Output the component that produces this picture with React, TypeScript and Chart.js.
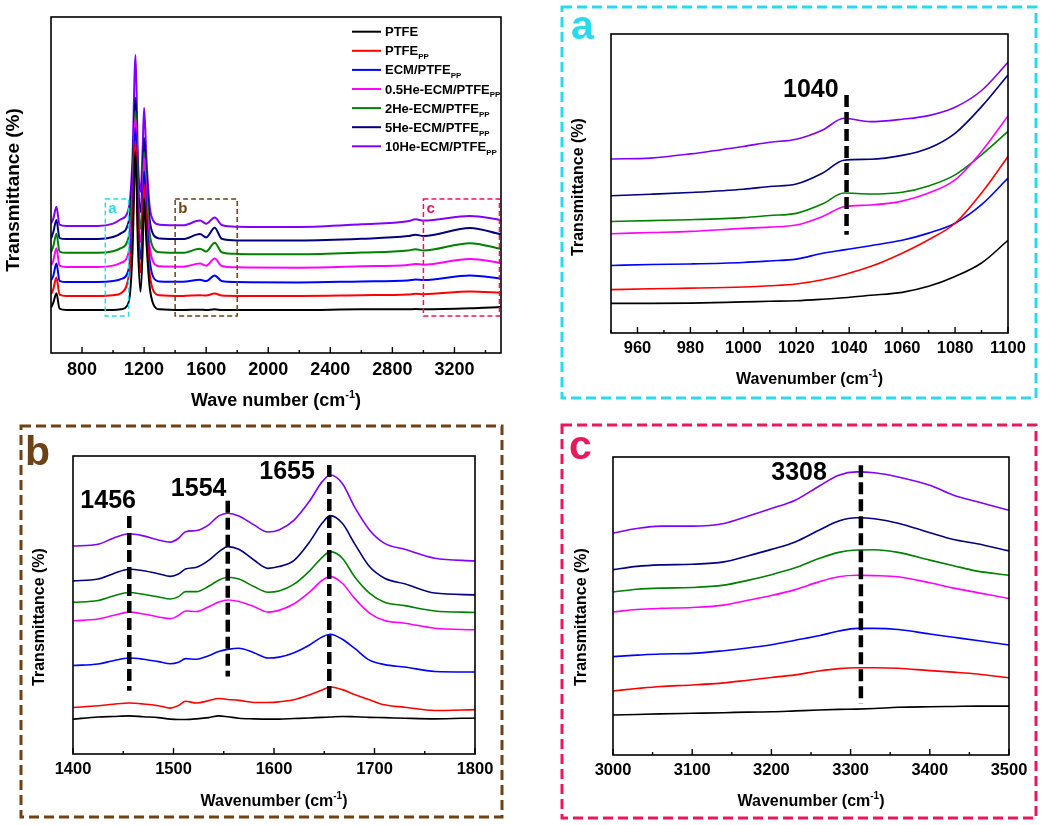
import React, { useEffect, useRef } from "react";
import { Chart, registerables } from "chart.js";
Chart.register(...registerables);

const FONT = '"Liberation Sans", Arial, Helvetica, sans-serif';

// ---------- series meta ----------
const seriesNames = ["PTFE", "PTFE", "ECM/PTFE", "0.5He-ECM/PTFE", "2He-ECM/PTFE", "5He-ECM/PTFE", "10He-ECM/PTFE"];
const seriesSubs = ["", "PP", "PP", "PP", "PP", "PP", "PP"];
const seriesColors = ["#000000", "#ff0000", "#0000ff", "#ff00ff", "#008000", "#000080", "#8000ff"];

// ---------- main panel (600-3500) ----------
const mainWaves = [600, 615, 635, 655, 700, 900, 1000, 1050, 1090, 1110, 1125, 1145, 1160, 1177, 1190, 1200, 1215, 1235, 1260, 1300, 1450, 1560, 1600, 1655, 1700, 1800, 2200, 2600, 2900, 2950, 3000, 3300, 3500];
const mainPTFE = [13.5, 15, 17.8, 13.2, 12.8, 12.8, 12.8, 13.0, 14.0, 18, 30, 60, 32, 18.2, 30, 46, 33, 20, 14.5, 13.0, 12.8, 12.9, 12.8, 13.0, 12.8, 12.8, 12.8, 13.0, 13.0, 13.1, 13.0, 13.3, 13.7];
const mainPTFEpp = [17.5, 19, 22.5, 17.4, 17.0, 17.0, 17.2, 17.8, 20.5, 26, 36, 63, 37, 24, 35, 50, 37, 24, 18.5, 17.2, 17.0, 17.2, 17.1, 17.7, 17.1, 17.0, 17.0, 17.2, 17.4, 17.6, 17.5, 18.3, 17.9];
const mainECM = [21.6, 23, 26.6, 21.5, 21.1, 21.1, 21.4, 22.0, 23.5, 28, 40, 67, 41, 28, 39, 54, 41, 28, 22.5, 21.3, 21.2, 21.8, 21.4, 23.1, 21.4, 21.1, 21.0, 21.3, 21.6, 21.9, 21.7, 23.1, 22.2];
const mainHe05 = [26, 27.5, 31.2, 26, 25.6, 25.6, 26.0, 26.8, 28.5, 33, 45, 70, 45, 33, 43, 58, 45, 32, 27, 25.8, 25.7, 26.6, 26.0, 28.1, 25.9, 25.5, 25.4, 25.8, 26.2, 26.5, 26.3, 28.0, 26.8];
const mainHe2 = [30, 31.8, 35.5, 30.2, 29.8, 29.8, 30.3, 31.2, 33, 37.5, 49, 72, 49, 37, 47, 60, 49, 36, 31.2, 30.0, 29.8, 31.0, 30.2, 32.8, 30.0, 29.5, 29.4, 29.9, 30.5, 30.9, 30.5, 32.7, 31.0];
const mainHe5 = [34, 36, 39.6, 34.2, 33.9, 33.9, 34.5, 35.6, 37.5, 42, 53, 76, 53, 42, 52, 64, 53, 40, 35.2, 34.1, 33.9, 35.4, 34.4, 37.3, 34.0, 33.5, 33.5, 34.0, 34.8, 35.2, 34.8, 37.2, 35.3];
const mainHe10 = [38.5, 40, 43.5, 38.2, 37.8, 37.8, 38.5, 39.8, 41.5, 46, 58, 88.7, 58, 48, 60, 73, 58, 44, 39.3, 38.2, 38.0, 39.4, 38.5, 40.3, 38.1, 37.6, 37.5, 38.3, 39.2, 39.8, 39.4, 40.8, 39.6];
const mainMajorTicks = [800, 1200, 1600, 2000, 2400, 2800, 3200];
const mainMinorTicks = [1000, 1400, 1800, 2200, 2600, 3000, 3400];

// ---------- panel a (950-1100) ----------
const aWaves = [950, 965, 980, 1000, 1010, 1020, 1030, 1038, 1048, 1060, 1070, 1080, 1090, 1100];
const aPTFE = [9.9, 9.9, 10.0, 10.4, 10.6, 10.8, 11.3, 11.8, 12.6, 13.6, 15.6, 18.9, 23.4, 31.0];
const aPTFEpp = [14.5, 14.8, 15.0, 15.4, 15.8, 16.4, 17.8, 19.5, 22.2, 26.7, 31.2, 36.7, 46.8, 59.0];
const aECM = [22.6, 22.9, 23.1, 23.6, 24.1, 24.7, 26.7, 27.8, 29.2, 31.0, 33.4, 36.7, 42.9, 51.8];
const aHe05 = [33.2, 33.6, 34.0, 35.0, 35.4, 36.1, 39.0, 42.2, 42.8, 44.1, 46.8, 51.2, 60.7, 72.6];
const aHe2 = [37.3, 37.6, 37.9, 38.6, 39.3, 40.0, 43.2, 46.8, 46.5, 47.1, 49.2, 52.9, 59.6, 67.4];
const aHe5 = [45.9, 46.4, 47.0, 48.1, 49.0, 49.8, 53.5, 57.8, 58.1, 59.4, 61.8, 66.8, 75.7, 86.3];
const aHe10 = [58.2, 58.5, 59.9, 62.4, 63.8, 64.8, 67.9, 71.8, 70.7, 71.5, 72.7, 75.5, 81.1, 90.5];
const aMajorTicks = [960, 980, 1000, 1020, 1040, 1060, 1080, 1100];
const aMinorTicks = [950, 970, 990, 1010, 1030, 1050, 1070, 1090];

// ---------- panel b (1400-1800) ----------
const bWaves = [1400, 1425, 1440, 1456, 1470, 1485, 1497, 1505, 1512, 1523, 1535, 1545, 1554, 1565, 1580, 1594, 1605, 1620, 1635, 1648, 1656, 1668, 1680, 1695, 1710, 1730, 1760, 1800];
const bPTFE = [11.7, 12.4, 12.6, 12.8, 12.5, 12.2, 11.7, 11.6, 11.6, 11.8, 12.2, 12.8, 12.5, 12.0, 11.8, 11.7, 11.7, 11.9, 12.1, 12.3, 12.4, 12.6, 12.5, 12.3, 12.2, 12.0, 11.8, 12.1];
const bPTFEpp = [15.6, 16.2, 16.7, 17.1, 16.8, 16.2, 15.4, 16.3, 17.7, 17.1, 17.9, 18.6, 18.3, 18.0, 17.3, 17.3, 17.5, 18.2, 19.8, 21.5, 22.5, 21.6, 20.0, 18.2, 16.5, 15.7, 14.6, 14.9];
const bECM = [29.7, 30.2, 31.3, 32.2, 31.8, 31.0, 30.3, 30.8, 32.0, 31.8, 33.0, 34.4, 35.1, 35.5, 34.0, 32.2, 32.5, 34.0, 36.5, 39.3, 40.2, 38.5, 35.5, 31.5, 30.0, 29.2, 27.7, 27.5];
const bHe05 = [44.7, 45.3, 46.5, 47.6, 47.0, 46.0, 45.4, 46.5, 48.0, 47.8, 49.4, 51.0, 51.7, 51.2, 49.5, 47.6, 48.2, 50.4, 54.2, 58.3, 59.6, 57.3, 52.3, 47.3, 44.8, 43.9, 42.2, 41.7];
const bHe2 = [50.9, 51.5, 53.0, 54.2, 53.6, 52.7, 52.0, 52.8, 54.5, 54.5, 56.3, 58.3, 59.3, 58.7, 56.2, 54.3, 54.7, 57.0, 61.3, 66.0, 67.9, 65.7, 59.6, 54.0, 50.9, 49.8, 48.0, 47.5];
const bHe5 = [58.1, 58.7, 60.5, 62.0, 61.5, 60.5, 59.6, 60.4, 62.1, 62.7, 65.0, 67.8, 69.6, 68.7, 65.1, 62.3, 62.9, 65.0, 71.0, 77.5, 80.0, 77.4, 70.7, 62.9, 59.0, 57.1, 54.0, 53.4];
const bHe10 = [69.8, 70.4, 72.4, 73.9, 73.2, 71.8, 71.1, 72.4, 74.6, 75.0, 76.9, 79.9, 80.8, 79.9, 76.9, 74.5, 75.2, 78.5, 84.7, 91.4, 93.6, 90.8, 83.0, 75.2, 70.7, 68.7, 65.7, 64.8];
const bMajorTicks = [1400, 1500, 1600, 1700, 1800];
const bMinorTicks = [1450, 1550, 1650, 1750];

// ---------- panel c (3000-3500) ----------
const cWaves = [3000, 3030, 3060, 3100, 3140, 3170, 3200, 3230, 3260, 3285, 3308, 3330, 3360, 3400, 3430, 3460, 3500];
const cPTFE = [13.4, 13.6, 13.8, 14.0, 14.2, 14.4, 14.5, 14.8, 15.1, 15.3, 15.4, 15.6, 16.0, 16.2, 16.3, 16.4, 16.4];
const cPTFEpp = [21.5, 22.3, 23.0, 23.5, 24.2, 25.1, 26.0, 26.9, 28.2, 29.0, 29.3, 29.3, 29.1, 28.3, 27.8, 27.2, 25.9];
const cECM = [33.0, 33.5, 33.9, 34.1, 35.0, 35.9, 37.0, 38.5, 40.0, 41.6, 42.5, 42.5, 42.1, 40.6, 39.5, 38.4, 36.9];
const cHe05 = [48.0, 48.8, 49.2, 49.5, 50.3, 51.9, 53.5, 55.5, 58.1, 59.8, 60.3, 60.2, 59.8, 57.8, 56.0, 54.5, 52.5];
const cHe2 = [54.7, 55.6, 56.0, 56.2, 57.0, 58.6, 60.5, 62.8, 65.9, 68.0, 68.8, 68.9, 68.0, 65.4, 63.5, 61.7, 60.3];
const cHe5 = [62.2, 63.3, 63.8, 64.0, 64.8, 66.8, 69.0, 71.5, 75.4, 78.5, 79.6, 79.3, 77.8, 74.6, 72.3, 70.9, 68.5];
const cHe10 = [74.5, 76.0, 76.8, 76.8, 77.7, 80.1, 82.7, 85.5, 90.2, 93.9, 95.0, 94.7, 93.3, 90.5, 87.2, 85.0, 82.1];
const cMajorTicks = [3000, 3100, 3200, 3300, 3400, 3500];
const cMinorTicks = [3050, 3150, 3250, 3350, 3450];

// ---------- peak markers ----------
const aMarkers = [{ x: 1039, y0: 32.9, y1: 79.6 }];
const aMarkerLabels = [{ text: "1040", x: 1036, y: 79.0, align: "right" }];
const bMarkers = [
  { x: 1456, y0: 21.2, y1: 79.9 },
  { x: 1554, y0: 26.0, y1: 85.0 },
  { x: 1655, y0: 17.1, y1: 97.0 },
];
const bMarkerLabels = [
  { text: "1456", x: 1435, y: 82.5, align: "center" },
  { text: "1554", x: 1525, y: 86.6, align: "center" },
  { text: "1655", x: 1613, y: 92.2, align: "center" },
];
const cMarkers = [{ x: 3313, y0: 17.3, y1: 97.2 }];
const cMarkerLabels = [{ text: "3308", x: 3235, y: 92.4, align: "center" }];

// zoom boxes on main panel
const mainBoxes = [
  { label: "a", x0: 950, x1: 1100, y0: 11, y1: 45.8, color: "#29d9ee" },
  { label: "b", x0: 1400, x1: 1800, y0: 11, y1: 45.8, color: "#6e4214" },
  { label: "c", x0: 3000, x1: 3490, y0: 11, y1: 45.8, color: "#e8185a" },
];

type Part = { t: string; sup?: boolean; sub?: boolean };

function drawParts(ctx: CanvasRenderingContext2D, parts: Part[], x: number, y: number, size: number, align: string, color: string, rotate = false) {
  ctx.save();
  const small = Math.round(size * 0.62);
  const widths = parts.map((p) => {
    ctx.font = `bold ${p.sup || p.sub ? small : size}px ${FONT}`;
    return ctx.measureText(p.t).width;
  });
  const total = widths.reduce((a, b) => a + b, 0);
  ctx.translate(x, y);
  if (rotate) ctx.rotate(-Math.PI / 2);
  let cx = align === "center" ? -total / 2 : align === "right" ? -total : 0;
  ctx.fillStyle = color;
  ctx.textBaseline = "alphabetic";
  ctx.textAlign = "left";
  parts.forEach((p, i) => {
    ctx.font = `bold ${p.sup || p.sub ? small : size}px ${FONT}`;
    const dy = p.sup ? -size * 0.42 : p.sub ? size * 0.3 : 0;
    ctx.fillText(p.t, cx, dy);
    cx += widths[i];
  });
  ctx.restore();
}

const wavenumberTitle: Part[] = [{ t: "Wavenumber (cm" }, { t: "-1", sup: true }, { t: ")" }];

type PanelCfg = {
  key: string;
  left: number; top: number; w: number; h: number;
  area: { l: number; t: number; r: number; b: number };
  xMin: number; xMax: number;
  waves: number[];
  series: number[][];
  major: number[]; minor: number[];
  tickSize: number; tickPad: number; lineWidth: number;
  xTitle: Part[]; xTitleY: number; yTitleX: number; yTitleY: number; titleSize: number;
  border?: { x0: number; y0: number; x1: number; y1: number; color: string; letter: string; lx: number; ly: number };
  markers?: { x: number; y0: number; y1: number }[];
  markerLabels?: { text: string; x: number; y: number; align: string }[];
  boxes?: typeof mainBoxes;
  legend?: boolean;
};

const panels: PanelCfg[] = [
  {
    key: "main", left: 0, top: 0, w: 520, h: 410,
    area: { l: 51, t: 17, r: 501, b: 353 },
    xMin: 600, xMax: 3500, waves: mainWaves,
    series: [mainPTFE, mainPTFEpp, mainECM, mainHe05, mainHe2, mainHe5, mainHe10],
    major: mainMajorTicks, minor: mainMinorTicks,
    tickSize: 18, tickPad: 6, lineWidth: 2,
    xTitle: [{ t: "Wave number (cm" }, { t: "-1", sup: true }, { t: ")" }],
    xTitleY: 406, yTitleX: 19, yTitleY: 190, titleSize: 18,
    boxes: mainBoxes, legend: true,
  },
  {
    key: "a", left: 520, top: 0, w: 530, h: 410,
    area: { l: 91, t: 34, r: 488, b: 333 },
    xMin: 950, xMax: 1100, waves: aWaves,
    series: [aPTFE, aPTFEpp, aECM, aHe05, aHe2, aHe5, aHe10],
    major: aMajorTicks, minor: aMinorTicks,
    tickSize: 16.5, tickPad: 6, lineWidth: 1.6,
    xTitle: wavenumberTitle, xTitleY: 384, yTitleX: 63, yTitleY: 187, titleSize: 16,
    border: { x0: 42, y0: 7, x1: 516, y1: 398, color: "#29d9ee", letter: "a", lx: 51, ly: 39 },
    markers: aMarkers, markerLabels: aMarkerLabels,
  },
  {
    key: "b", left: 0, top: 410, w: 520, h: 415,
    area: { l: 73, t: 46, r: 475, b: 344 },
    xMin: 1400, xMax: 1800, waves: bWaves,
    series: [bPTFE, bPTFEpp, bECM, bHe05, bHe2, bHe5, bHe10],
    major: bMajorTicks, minor: bMinorTicks,
    tickSize: 16.5, tickPad: 6, lineWidth: 1.6,
    xTitle: wavenumberTitle, xTitleY: 396, yTitleX: 44, yTitleY: 207, titleSize: 16,
    border: { x0: 21, y0: 16, x1: 502, y1: 407, color: "#6e4214", letter: "b", lx: 25, ly: 55 },
    markers: bMarkers, markerLabels: bMarkerLabels,
  },
  {
    key: "c", left: 520, top: 410, w: 530, h: 415,
    area: { l: 93, t: 47, r: 489, b: 345 },
    xMin: 3000, xMax: 3500, waves: cWaves,
    series: [cPTFE, cPTFEpp, cECM, cHe05, cHe2, cHe5, cHe10],
    major: cMajorTicks, minor: cMinorTicks,
    tickSize: 16.5, tickPad: 6, lineWidth: 1.6,
    xTitle: wavenumberTitle, xTitleY: 396, yTitleX: 66, yTitleY: 207, titleSize: 16,
    border: { x0: 42, y0: 15, x1: 516, y1: 408, color: "#e8185a", letter: "c", lx: 49, ly: 49 },
    markers: cMarkers, markerLabels: cMarkerLabels,
  },
];

function buildConfig(cfg: PanelCfg): any {
  const decor = {
    id: "decor_" + cfg.key,
    afterDatasetsDraw(chart: any) {
      const ctx: CanvasRenderingContext2D = chart.ctx;
      const xs = chart.scales.x;
      const ys = chart.scales.y;
      const a = chart.chartArea;
      ctx.save();
      // plot frame
      ctx.strokeStyle = "#000";
      ctx.lineWidth = 1.6;
      ctx.setLineDash([]);
      ctx.strokeRect(a.left, a.top, a.right - a.left, a.bottom - a.top);
      // inward ticks
      ctx.lineWidth = 1.4;
      cfg.major.forEach((v) => {
        const px = xs.getPixelForValue(v);
        ctx.beginPath();
        ctx.moveTo(px, a.bottom);
        ctx.lineTo(px, a.bottom - 6);
        ctx.stroke();
      });
      cfg.minor.forEach((v) => {
        const px = xs.getPixelForValue(v);
        ctx.beginPath();
        ctx.moveTo(px, a.bottom);
        ctx.lineTo(px, a.bottom - 3);
        ctx.stroke();
      });
      // markers
      (cfg.markers || []).forEach((m) => {
        const px = xs.getPixelForValue(m.x);
        ctx.strokeStyle = "#000";
        ctx.lineWidth = 4.5;
        ctx.setLineDash([12, 5]);
        ctx.beginPath();
        ctx.moveTo(px, ys.getPixelForValue(m.y1));
        ctx.lineTo(px, ys.getPixelForValue(m.y0));
        ctx.stroke();
      });
      ctx.setLineDash([]);
      (cfg.markerLabels || []).forEach((l) => {
        drawParts(ctx, [{ t: l.text }], xs.getPixelForValue(l.x), ys.getPixelForValue(l.y), 25, l.align, "#000");
      });
      // zoom boxes
      (cfg.boxes || []).forEach((b) => {
        const x0 = xs.getPixelForValue(b.x0), x1 = xs.getPixelForValue(b.x1);
        const y0 = ys.getPixelForValue(b.y1), y1 = ys.getPixelForValue(b.y0);
        ctx.strokeStyle = b.color;
        ctx.lineWidth = 1.5;
        ctx.setLineDash([5, 3]);
        ctx.strokeRect(x0, y0, x1 - x0, y1 - y0);
        ctx.setLineDash([]);
        drawParts(ctx, [{ t: b.label }], x0 + 3, y0 + 14, 15, "left", b.color);
      });
      // legend
      if (cfg.legend) {
        seriesNames.forEach((name, i) => {
          const y = 31.7 + i * 19.1;
          ctx.strokeStyle = seriesColors[i];
          ctx.lineWidth = 2;
          ctx.beginPath();
          ctx.moveTo(352, y);
          ctx.lineTo(381, y);
          ctx.stroke();
          const parts: Part[] = [{ t: name }];
          if (seriesSubs[i]) parts.push({ t: seriesSubs[i], sub: true });
          drawParts(ctx, parts, 385, y + 4.5, 13, "left", "#000");
        });
      }
      // axis titles
      drawParts(ctx, cfg.xTitle, (a.left + a.right) / 2, cfg.xTitleY, cfg.titleSize, "center", "#000");
      drawParts(ctx, [{ t: "Transmittance (%)" }], cfg.yTitleX, cfg.yTitleY, cfg.titleSize + (cfg.legend ? 1 : 0), "center", "#000", true);
      // panel border + letter
      if (cfg.border) {
        const b = cfg.border;
        ctx.strokeStyle = b.color;
        ctx.lineWidth = 3;
        ctx.setLineDash([10, 5]);
        ctx.strokeRect(b.x0, b.y0, b.x1 - b.x0, b.y1 - b.y0);
        ctx.setLineDash([]);
        drawParts(ctx, [{ t: b.letter }], b.lx, b.ly, 41, "left", b.color);
      }
      ctx.restore();
    },
  };

  return {
    type: "line",
    data: {
      datasets: cfg.series.map((vals, i) => ({
        label: seriesNames[i] + seriesSubs[i],
        data: cfg.waves.map((w, j) => ({ x: w, y: vals[j] })),
        borderColor: seriesColors[i],
        backgroundColor: seriesColors[i],
        borderWidth: cfg.lineWidth,
        pointRadius: 0,
        cubicInterpolationMode: "monotone",
        fill: false,
      })),
    },
    options: {
      responsive: false,
      animation: false,
      events: [],
      layout: { padding: { left: cfg.area.l, top: cfg.area.t, right: cfg.w - cfg.area.r, bottom: 0 } },
      plugins: { legend: { display: false }, tooltip: { enabled: false }, title: { display: false } },
      scales: {
        x: {
          type: "linear",
          min: cfg.xMin,
          max: cfg.xMax,
          grid: { display: false, drawTicks: false },
          border: { display: false },
          afterFit: (s: any) => { s.height = cfg.h - cfg.area.b; },
          afterBuildTicks: (s: any) => { s.ticks = cfg.major.map((v) => ({ value: v })); },
          ticks: {
            autoSkip: false,
            maxRotation: 0,
            minRotation: 0,
            padding: cfg.tickPad,
            color: "#000",
            font: { family: FONT, size: cfg.tickSize, weight: "bold" },
            callback: (v: any) => String(v),
          },
        },
        y: { display: false, min: 0, max: 100 },
      },
    },
    plugins: [decor],
  };
}

function Panel({ cfg }: { cfg: PanelCfg }) {
  const ref = useRef<HTMLCanvasElement>(null);
  useEffect(() => {
    const chart = new Chart(ref.current as HTMLCanvasElement, buildConfig(cfg));
    return () => chart.destroy();
  }, [cfg]);
  return (
    <canvas
      ref={ref}
      width={cfg.w}
      height={cfg.h}
      style={{ position: "absolute", left: cfg.left, top: cfg.top, width: cfg.w, height: cfg.h, display: "block" }}
    />
  );
}

export default function App() {
  return (
    <div style={{ position: "absolute", left: 0, top: 0, width: 1050, height: 825, background: "#fff", overflow: "hidden" }}>
      {panels.map((p) => (
        <Panel key={p.key} cfg={p} />
      ))}
    </div>
  );
}
